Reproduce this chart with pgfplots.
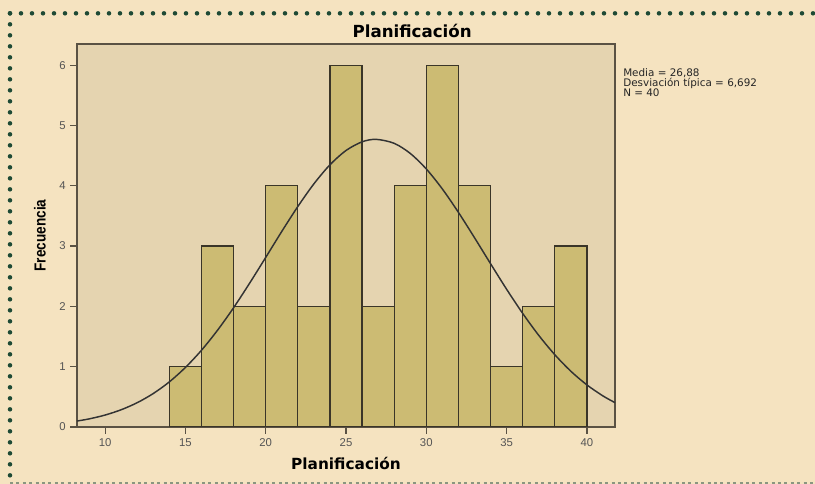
\documentclass[border=0pt]{standalone}
\usepackage{fontspec}
\setmainfont{Liberation Sans}
\newfontfamily\dejavu{DejaVu Sans}
\usepackage{pgfplots}
\pgfplotsset{compat=1.18}

\definecolor{pagebg}{HTML}{F5E3C0}
\definecolor{plotbg}{HTML}{E5D4B0}
\definecolor{barfill}{HTML}{CCBB73}
\definecolor{barline}{HTML}{3A3528}
\definecolor{framegreen}{HTML}{1E4A35}
\definecolor{dashgrey}{HTML}{8A9680}
\definecolor{axisgrey}{HTML}{5A5244}
\definecolor{ticktext}{HTML}{555555}

\begin{document}
\begin{tikzpicture}
  % page background and bounding box (815 x 484 px at 0.75pt/px)
  \fill[pagebg] (0,0) rectangle (611.25pt,-363pt);
  \useasboundingbox (0,0) rectangle (611.25pt,-363pt);
  % dotted frame
  \draw[framegreen, line width=3.4pt, line cap=round, dash pattern=on 0pt off 8.25pt]
    (7.5pt,-10pt) -- (611.25pt,-10pt);
  \draw[framegreen, line width=3.4pt, line cap=round, dash pattern=on 0pt off 8.25pt]
    (7.5pt,-10pt) -- (7.5pt,-357pt);
  \draw[dashgrey, line width=1.2pt, dash pattern=on 2.2pt off 2.6pt]
    (7.5pt,-362.4pt) -- (611.25pt,-362.4pt);

  \begin{axis}[
      at={(57.75pt,-320.25pt)}, anchor=south west,
      scale only axis,
      width=403.5pt, height=287.25pt,
      xmin=8.25, xmax=41.75,
      ymin=0, ymax=6.35,
      axis background/.style={fill=plotbg},
      axis line style={axisgrey, line width=1.1pt},
      xtick={10,15,...,40},
      ytick={0,1,...,6},
      xtick pos=bottom, ytick pos=left,
      tick align=outside,
      major tick length=5pt,
      tick style={axisgrey, line width=0.9pt},
      /pgf/number format/assume math mode=true,
      tick label style={font=\fontsize{8.5}{10}\selectfont, color=ticktext},
      title={Planificación},
      title style={font=\dejavu\bfseries\fontsize{12.5}{14}\selectfont,
                   at={(axis description cs:0.623,1)}, anchor=center, yshift=3.5pt},
      xlabel={Planificación},
      xlabel style={font=\dejavu\bfseries\fontsize{11.5}{13}\selectfont,
                    at={(axis description cs:0.5,-0.094)}, anchor=center},
      ylabel={\scalebox{0.85}[1]{Frecuencia}},
      ylabel style={font=\bfseries\fontsize{12}{14}\selectfont,
                    at={(axis description cs:-0.0688,0.5)}, anchor=center},
    ]
    % histogram, bin width 2
    \addplot[ybar interval, fill=barfill, draw=barline, line width=0.9pt]
      coordinates {(14,1) (16,3) (18,2) (20,4) (22,2) (24,6) (26,2)
                   (28,4) (30,6) (32,4) (34,1) (36,2) (38,3) (40,3)};
    % fitted normal curve (mean 26.88, sd 6.692, N=40)
    \addplot[smooth, black!80, line width=1.1pt] coordinates {
      (8.25,0.099) (9,0.134) (10,0.198) (11,0.286) (12,0.403) (13,0.555)
      (14,0.748) (15,0.987) (16,1.272) (17,1.604) (18,1.977) (19,2.385)
      (20,2.811) (21,3.242) (22,3.655) (23,4.031) (24,4.347) (25,4.584)
      (26,4.728) (26.88,4.769) (28,4.703) (29,4.536) (30,4.278) (31,3.946)
      (32,3.559) (33,3.139) (34,2.708) (35,2.284) (36,1.884) (37,1.520)
      (38,1.199) (39,0.925) (40,0.698) (41,0.515) (41.75,0.404)};
  \end{axis}

  \node[anchor=north west, align=left, inner sep=0pt, text=black!85,
        font=\dejavu\fontsize{7.8}{7.5}\selectfont]
    at (467.25pt,-51.5pt) {Media = 26,88\\Desviación típica = 6,692\\N = 40};
\end{tikzpicture}
\end{document}
